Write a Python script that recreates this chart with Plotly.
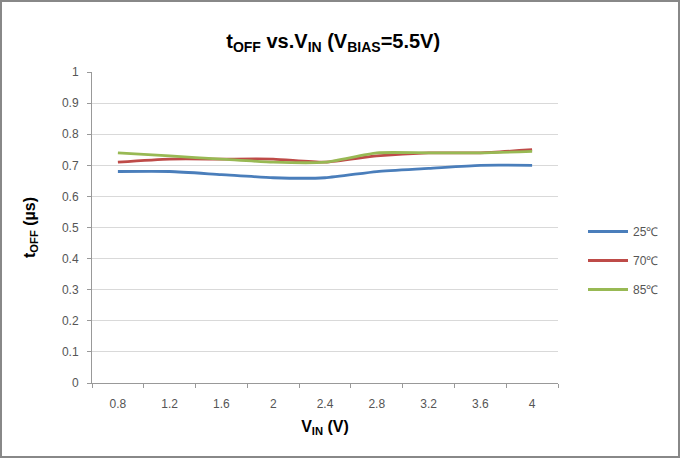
import plotly.graph_objects as go

vin = ["0.8", "1.2", "1.6", "2", "2.4", "2.8", "3.2", "3.6", "4"]
t25 = [0.68, 0.68, 0.67, 0.66, 0.66, 0.68, 0.69, 0.70, 0.70]
t70 = [0.71, 0.72, 0.72, 0.72, 0.71, 0.73, 0.74, 0.74, 0.75]
t85 = [0.74, 0.73, 0.72, 0.71, 0.71, 0.74, 0.74, 0.74, 0.745]
names = ["25℃", "70℃", "85℃"]
colors = ["#4a7ebb", "#be4b48", "#98b954"]

W, H = 680, 458
L, R, T, B = 92, 122, 72, 75
pw, ph = W - L - R, H - T - B

fig = go.Figure()
for y, n, c in zip([t25, t70, t85], names, colors):
    fig.add_trace(go.Scatter(x=vin, y=y, mode="lines", name=n, legendgroup=n,
                             line=dict(color=c, width=2.8, shape="spline", smoothing=0.6)))

fig.update_layout(
    width=W, height=H,
    margin=dict(l=L, r=R, t=T, b=B),
    paper_bgcolor="white", plot_bgcolor="white",
    font=dict(family="Liberation Sans, Arial", color="#555"),
    title=dict(text="<b>t<sub>OFF</sub> vs.V<sub>IN</sub> (V<sub>BIAS</sub>=5.5V)</b>",
               x=0.49, xanchor="center", y=1 - 41 / H, yanchor="middle",
               font=dict(size=20, color="black")),
    legend=dict(x=(583 - L) / pw, y=1 - (217 - T) / ph, xanchor="left", yanchor="top",
                font=dict(size=12, color="#555"), tracegroupgap=10, itemwidth=40,
                bgcolor="rgba(0,0,0,0)"),
    xaxis=dict(type="category", range=[-0.5, 8.5], tickson="boundaries",
               ticks="outside", ticklen=4, tickcolor="#999", ticklabelstandoff=10,
               showline=True, linecolor="#999", linewidth=1, showgrid=False,
               tickfont=dict(size=12, color="#555"),
               title=dict(text="<b>V<sub>IN</sub> (V)</b>", font=dict(size=16, color="black"), standoff=10)),
    yaxis=dict(range=[0, 1], dtick=0.1, tickformat="~g",
               ticks="outside", ticklen=4, tickcolor="#999", ticklabelstandoff=6,
               showline=True, linecolor="#999", linewidth=1,
               showgrid=True, gridcolor="#d9d9d9", zeroline=False,
               tickfont=dict(size=12, color="#555"),
               title=dict(text="<b>t<sub>OFF</sub> (µs)</b>", font=dict(size=16, color="black"), standoff=22)),
)

fig.add_shape(type="rect", xref="paper", yref="paper",
              x0=(1 - L) / pw, x1=(W - 1 - L) / pw,
              y0=-(B - 1) / ph, y1=1 + (T - 1) / ph,
              line=dict(color="#888", width=2), fillcolor="rgba(0,0,0,0)", layer="below")

fig.write_html("out.html", config={"displayModeBar": False},
               post_script="document.body.style.margin='0';document.body.style.padding='0';")
